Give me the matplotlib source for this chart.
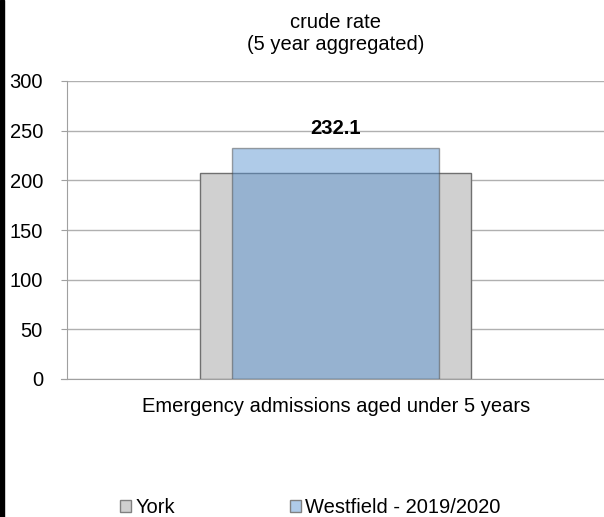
import matplotlib.pyplot as plt
from matplotlib.patches import Patch, Rectangle

plt.rcParams['font.family'] = ['Liberation Sans', 'DejaVu Sans']

# data
categories = ["Emergency admissions aged under 5 years"]
york = [207.0]
westfield = [232.1]
series_names = ["York", "Westfield - 2019/2020"]
yticks = [0, 50, 100, 150, 200, 250, 300]

W, H = 604, 517
FS = 14.5

fig = plt.figure(figsize=(W / 100, H / 100), dpi=100)
# black strip at the left edge of the picture
fig.patches.append(Rectangle((0, 0), 4 / W, 1, transform=fig.transFigure,
                             color='black', zorder=10))

ax = fig.add_axes([67 / W, 1 - 379 / H, 537 / W, 298 / H])

x = list(range(len(categories)))
ax.bar(x, york, width=0.503, color='#D0D0D0', edgecolor='#707070',
       linewidth=1, zorder=2)
ax.bar(x, westfield, width=0.387, color='#5591D0', alpha=0.47,
       edgecolor='#404040', linewidth=1, zorder=3)

for xi, v in zip(x, westfield):
    ax.annotate(f"{v:.1f}", (xi, v), xytext=(0, 10.5), textcoords='offset points',
                ha='center', va='baseline', fontsize=FS, fontweight='bold')

ax.set_xlim(-0.5, 0.5)
ax.set_ylim(0, 300)
ax.set_yticks(yticks)
ax.set_yticklabels([str(t) for t in yticks], fontsize=FS)
ax.tick_params(axis='y', length=4.3, color='#a0a0a0', pad=13)
ax.set_xticks([])

ax.grid(axis='y', color='#b0b0b0', linewidth=1, zorder=0)
ax.set_axisbelow(True)
for s in ['top', 'right']:
    ax.spines[s].set_visible(False)
ax.spines['left'].set_color('#a0a0a0')
ax.spines['bottom'].set_color('#a0a0a0')
ax.spines['bottom'].set_bounds(-0.5 - 6 / 537, 0.5)

fig.text(336 / W, 1 - 28 / H, "crude rate", ha='center', va='baseline',
         fontsize=FS)
fig.text(336 / W, 1 - 50 / H, "(5 year aggregated)", ha='center',
         va='baseline', fontsize=FS)
fig.text(336 / W, 1 - 412 / H, categories[0], ha='center', va='baseline',
         fontsize=FS)

handles = [Patch(facecolor='#D0D0D0', edgecolor='#808080'),
           Patch(facecolor='#AFCBE9', edgecolor='#808080')]
fig.legend(handles, series_names, loc='lower left', ncol=2, frameon=False,
           bbox_to_anchor=(120 / W, 0), fontsize=FS, borderpad=0,
           borderaxespad=0, handlelength=0.57, handleheight=0.57,
           handletextpad=0.2, columnspacing=5.7)

fig.savefig("out.png", dpi=100)
